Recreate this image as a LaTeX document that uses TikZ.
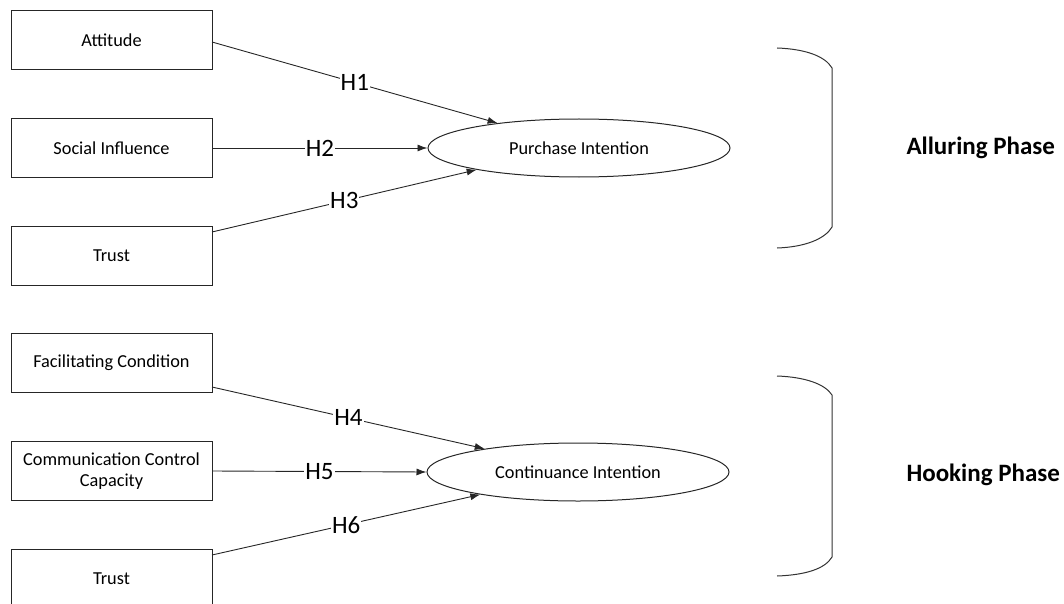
\documentclass[tikz,border=0pt]{standalone}
\usepackage{fontspec}
\setmainfont{Carlito}
\usetikzlibrary{arrows.meta,shapes.geometric}
\begin{document}
\begin{tikzpicture}[x=1pt,y=-1pt,
  box/.style={draw=black!85,line width=1pt,minimum width=201pt,minimum height=59pt,inner sep=0pt,align=center,font=\fontsize{18.3}{21}\selectfont},
  oval/.style={draw=black!85,line width=1pt,ellipse,minimum width=302pt,minimum height=58pt,inner sep=0pt,font=\fontsize{18.3}{21}\selectfont},
  conn/.style={draw=black!85,line width=0.9pt,-{Latex[length=10pt,width=7pt]}},
  hlab/.style={fill=white,inner sep=1pt,font=\fontsize{25}{27}\selectfont},
  phase/.style={font=\bfseries\fontsize{25}{27}\selectfont,anchor=west},
  brk/.style={draw=black!80,line width=1pt}]
\useasboundingbox (0,0) rectangle (1064,604);
% boxes
\node[box] (att) at (111.5,40.5) {Attitude};
\node[box] (soc) at (111.5,148) {Social Influence};
\node[box] (tr1) at (111.5,256) {Trust};
\node[box] (fac) at (111.5,362.5) {Facilitating Condition};
\node[box] (ccc) at (111.5,471) {Communication Control\\Capacity};
\node[box] (tr2) at (111.5,578.5) {Trust};
% ellipses
\node[oval] (pi) at (579,148) {Purchase Intention};
\node[oval] (ci) at (578,472) {Continuance Intention};
% connector start points on box edges
\coordinate (a1) at (212,42);
\coordinate (a3) at (212,232);
\coordinate (a4) at (212,387);
\coordinate (a6) at (212,555);
% connectors
\draw[conn] (a1) -- node[hlab] {H1} (pi.163);
\draw[conn] (soc.east) -- node[hlab] {H2} (pi.west);
\draw[conn] (a3) -- node[hlab] {H3} (pi.192.5);
\draw[conn] (a4) -- node[hlab] {H4} (ci.166.8);
\draw[conn] (ccc.east) -- node[hlab] {H5} (ci.west);
\draw[conn] (a6) -- node[hlab] {H6} (ci.193.8);
% brackets
\draw[brk] (777,48) .. controls (805,49) and (825,56) .. (832,68) -- (832,227) .. controls (825,239) and (805,247) .. (777,248);
\draw[brk] (777,376) .. controls (805,377) and (825,384) .. (832,395) -- (832,557) .. controls (825,569) and (805,575) .. (777,576);
\node[phase] (al) at (903,148) {Alluring Phase};
\node[phase] (ho) at (903,475) {Hooking Phase};
\end{tikzpicture}
\end{document}
